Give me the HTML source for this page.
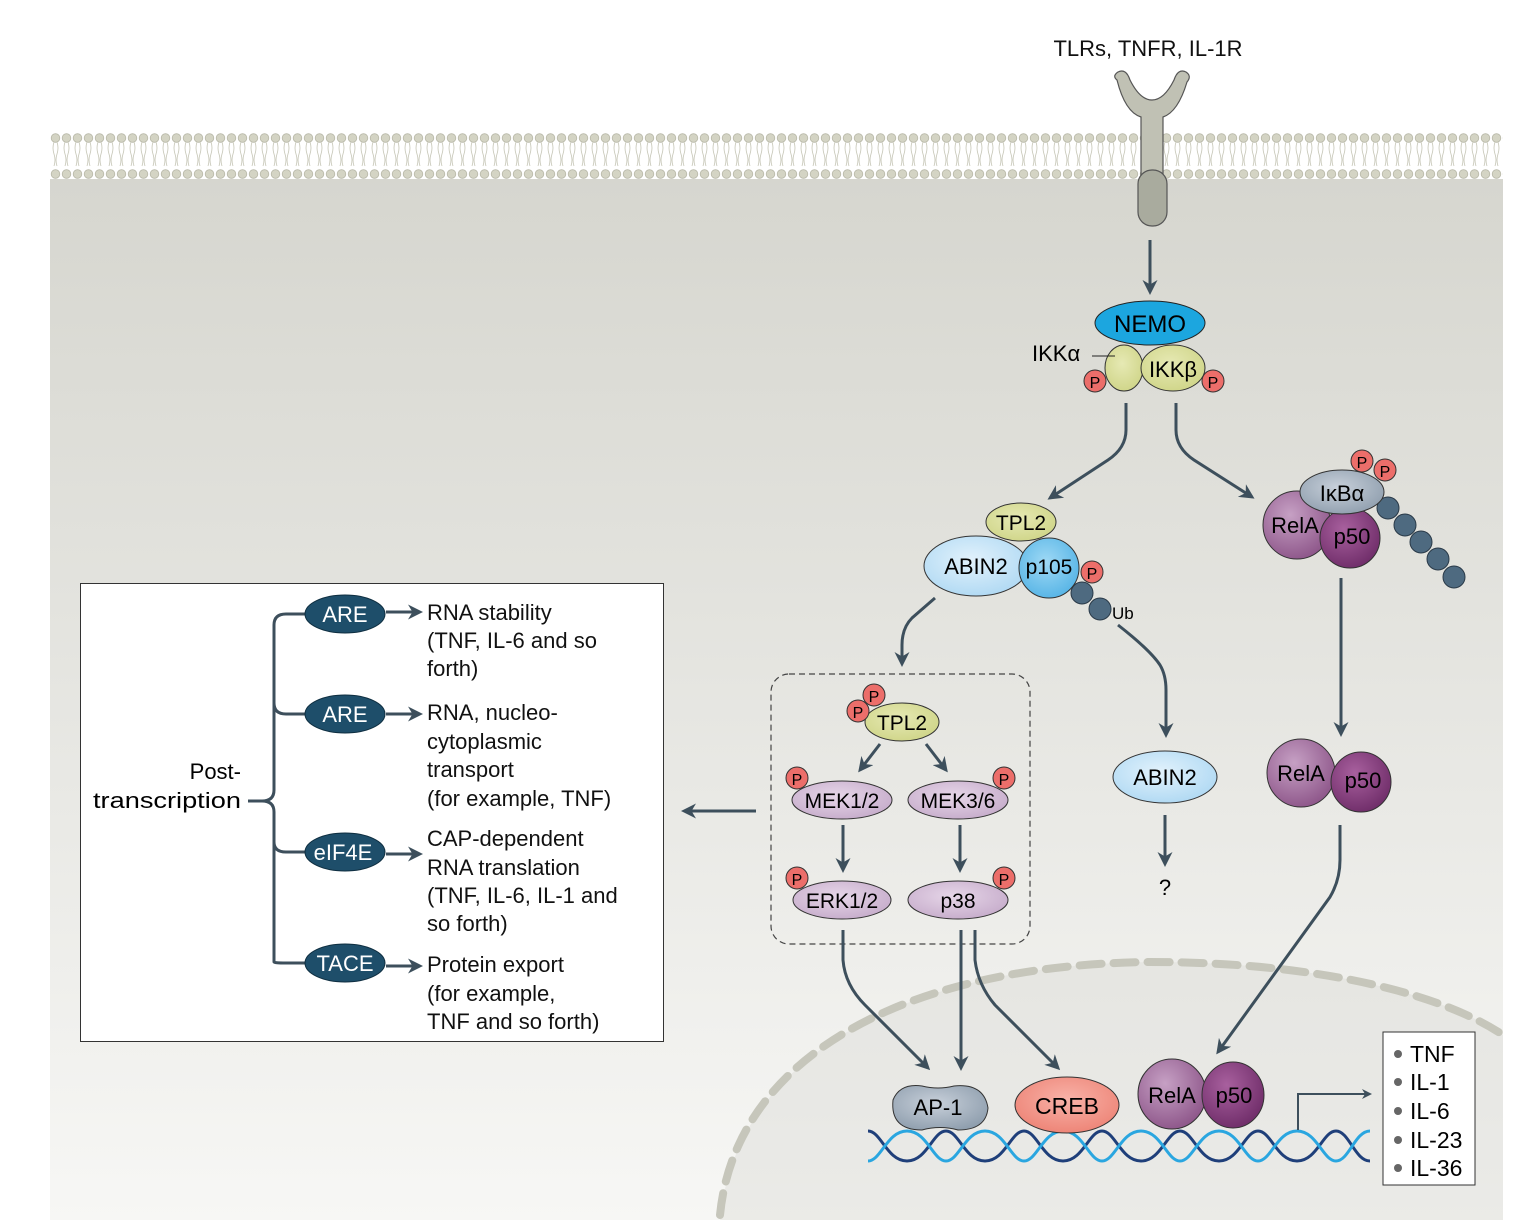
<!DOCTYPE html>
<html><head><meta charset="utf-8"><style>
html,body{margin:0;padding:0;background:#fff}
svg text{font-family:"Liberation Sans","DejaVu Sans",sans-serif}
</style></head><body>
<svg width="1514" height="1220" viewBox="0 0 1514 1220" xmlns="http://www.w3.org/2000/svg">
<defs>
<linearGradient id="cell" x1="0" y1="0" x2="0" y2="1">
<stop offset="0" stop-color="#d6d6cf"/><stop offset="0.6" stop-color="#e9e9e5"/><stop offset="1" stop-color="#f7f7f5"/></linearGradient>
<radialGradient id="gy" cx="0.45" cy="0.4" r="0.7"><stop offset="0" stop-color="#e6e9b4"/><stop offset="1" stop-color="#cdd384"/></radialGradient>
<radialGradient id="pu" cx="0.4" cy="0.35" r="0.7"><stop offset="0" stop-color="#c6a0c4"/><stop offset="1" stop-color="#8c5488"/></radialGradient>
<radialGradient id="pd" cx="0.4" cy="0.35" r="0.7"><stop offset="0" stop-color="#a8609e"/><stop offset="1" stop-color="#6e2c68"/></radialGradient>
<radialGradient id="lp" cx="0.45" cy="0.4" r="0.7"><stop offset="0" stop-color="#e6d6e8"/><stop offset="1" stop-color="#c3a8c8"/></radialGradient>
<radialGradient id="lb" cx="0.45" cy="0.4" r="0.7"><stop offset="0" stop-color="#e2f2fc"/><stop offset="1" stop-color="#aad6f2"/></radialGradient>
<radialGradient id="mb" cx="0.45" cy="0.4" r="0.7"><stop offset="0" stop-color="#9fd9f5"/><stop offset="1" stop-color="#4eb0e4"/></radialGradient>
<radialGradient id="sg" cx="0.45" cy="0.4" r="0.7"><stop offset="0" stop-color="#c8d0da"/><stop offset="1" stop-color="#8a9aaa"/></radialGradient>
<radialGradient id="cr" cx="0.5" cy="0.4" r="0.7"><stop offset="0" stop-color="#f8b2a8"/><stop offset="1" stop-color="#ec7e70"/></radialGradient>
<marker id="ah" viewBox="0 0 10 10" refX="8" refY="5" markerWidth="5" markerHeight="5" orient="auto"><path d="M0,0 L10,5 L0,10 L3,5z" fill="#3d4f5c"/></marker>
<pattern id="lip" x="50" y="133" width="11" height="46" patternUnits="userSpaceOnUse">
<circle cx="5.5" cy="5" r="4.3" fill="#d4d4c4" stroke="#b8b8a8" stroke-width="0.8"/>
<circle cx="5.5" cy="41" r="4.3" fill="#d4d4c4" stroke="#b8b8a8" stroke-width="0.8"/>
<path d="M4,9 q-2,6 0,12 q2,6 0,12 M7,9 q2,6 0,12 q-2,6 0,12" stroke="#c4c4b4" stroke-width="0.8" fill="none"/>
</pattern>
<clipPath id="cc"><rect x="50" y="174" width="1453" height="1046"/></clipPath>
</defs>
<rect x="50" y="174" width="1453" height="1046" fill="url(#cell)"/>
<rect x="50" y="133" width="1453" height="46" fill="#fff"/>
<rect x="50" y="133" width="1453" height="46" fill="url(#lip)"/>
<!-- nucleus -->
<g clip-path="url(#cc)">
<path d="M720,1220 C735,1060 900,965 1150,962 C1320,962 1450,995 1510,1040 L1510,1220Z" fill="#dcdcd6" opacity="0.45"/>
<path d="M720,1215 C735,1060 900,965 1150,962 C1320,962 1450,995 1510,1040" fill="none" stroke="#c6c6bb" stroke-width="8" stroke-dasharray="22,12" stroke-linecap="round"/>
</g>
<!-- receptor -->
<text x="1148" y="56" font-size="22" text-anchor="middle" fill="#111">TLRs, TNFR, IL-1R</text>
<path d="M1117,80 Q1112,76 1118,72 Q1126,68 1130,80 Q1140,100 1152,100 Q1164,100 1174,80 Q1178,68 1186,72 Q1192,76 1187,82 Q1178,112 1163,117 L1163,180 L1141,180 L1141,117 Q1125,112 1117,80Z" fill="#c0c1b4" stroke="#555" stroke-width="1.2"/>
<rect x="1138" y="170" width="29" height="56" rx="14" fill="#a9ab9e" stroke="#555" stroke-width="1.2"/>
<line x1="1150" y1="240" x2="1150" y2="292" stroke="#3d4f5c" stroke-width="3" marker-end="url(#ah)"/>
<!-- IKK -->
<ellipse cx="1150" cy="323" rx="55" ry="22" fill="#1ca6df" stroke="#222"/>
<text x="1150" y="332" font-size="24" text-anchor="middle">NEMO</text>
<ellipse cx="1124" cy="368" rx="19" ry="23" fill="url(#gy)" stroke="#333"/>
<ellipse cx="1173" cy="368" rx="32" ry="23" fill="url(#gy)" stroke="#333"/>
<text x="1173" y="377" font-size="22" text-anchor="middle">IKKβ</text>
<text x="1032" y="361" font-size="22">IKKα</text>
<line x1="1092" y1="356" x2="1115" y2="356" stroke="#222"/>
<circle cx="1095" cy="381" r="11" fill="#ec6e6a" stroke="#333"/><text x="1095" y="388" font-size="16" text-anchor="middle">P</text>
<circle cx="1213" cy="381" r="11" fill="#ec6e6a" stroke="#333"/><text x="1213" y="388" font-size="16" text-anchor="middle">P</text>
<path d="M1126,403 L1126,430 Q1126,448 1108,460 L1050,498" fill="none" stroke="#3d4f5c" stroke-width="3" marker-end="url(#ah)"/>
<path d="M1176,403 L1176,430 Q1176,448 1194,460 L1252,497" fill="none" stroke="#3d4f5c" stroke-width="3" marker-end="url(#ah)"/>
<!-- IkBa complex -->
<circle cx="1297" cy="525" r="34" fill="url(#pu)" stroke="#333"/>
<circle cx="1350" cy="538" r="30" fill="url(#pd)" stroke="#333"/>
<g fill="#4e6a80" stroke="#2a3a48">
<circle cx="1388" cy="508" r="11"/><circle cx="1405" cy="525" r="11"/><circle cx="1421" cy="542" r="11"/><circle cx="1438" cy="559" r="11"/><circle cx="1454" cy="577" r="11"/></g>
<ellipse cx="1342" cy="492" rx="42" ry="22" fill="url(#sg)" stroke="#333"/>
<text x="1342" y="501" font-size="22" text-anchor="middle">IκBα</text>
<text x="1295" y="533" font-size="22" text-anchor="middle">RelA</text>
<text x="1352" y="544" font-size="22" text-anchor="middle">p50</text>
<circle cx="1362" cy="461" r="11" fill="#ec6e6a" stroke="#333"/><text x="1362" y="468" font-size="16" text-anchor="middle">P</text>
<circle cx="1385" cy="470" r="11" fill="#ec6e6a" stroke="#333"/><text x="1385" y="477" font-size="16" text-anchor="middle">P</text>
<line x1="1341" y1="578" x2="1341" y2="734" stroke="#3d4f5c" stroke-width="3" marker-end="url(#ah)"/>
<circle cx="1301" cy="773" r="34" fill="url(#pu)" stroke="#333"/>
<circle cx="1361" cy="782" r="30" fill="url(#pd)" stroke="#333"/>
<text x="1301" y="781" font-size="22" text-anchor="middle">RelA</text>
<text x="1363" y="788" font-size="22" text-anchor="middle">p50</text>
<path d="M1340,825 L1340,860 Q1340,880 1330,897 L1218,1052" fill="none" stroke="#3d4f5c" stroke-width="3" marker-end="url(#ah)"/>
<!-- TPL2/ABIN2/p105 -->
<g fill="#4e6a80" stroke="#2a3a48"><circle cx="1082" cy="593" r="11"/><circle cx="1100" cy="609" r="11"/></g>
<text x="1112" y="619" font-size="17">Ub</text>
<ellipse cx="976" cy="566" rx="52" ry="30" fill="url(#lb)" stroke="#333"/>
<circle cx="1049" cy="568" r="30" fill="url(#mb)" stroke="#333"/>
<ellipse cx="1021" cy="522" rx="35" ry="19" fill="url(#gy)" stroke="#333"/>
<text x="1021" y="530" font-size="21" text-anchor="middle">TPL2</text>
<text x="976" y="574" font-size="22" text-anchor="middle">ABIN2</text>
<text x="1049" y="574" font-size="21" text-anchor="middle">p105</text>
<circle cx="1092" cy="572" r="11" fill="#ec6e6a" stroke="#333"/><text x="1092" y="579" font-size="16" text-anchor="middle">P</text>
<path d="M1118,625 Q1150,650 1160,665 Q1166,675 1166,690 L1166,735" fill="none" stroke="#3d4f5c" stroke-width="3" marker-end="url(#ah)"/>
<ellipse cx="1165" cy="777" rx="52" ry="26" fill="url(#lb)" stroke="#333"/>
<text x="1165" y="785" font-size="22" text-anchor="middle">ABIN2</text>
<line x1="1165" y1="815" x2="1165" y2="864" stroke="#3d4f5c" stroke-width="3" marker-end="url(#ah)"/>
<text x="1165" y="895" font-size="22" text-anchor="middle">?</text>
<path d="M935,598 L912,618 Q902,628 902,645 L902,664" fill="none" stroke="#3d4f5c" stroke-width="3" marker-end="url(#ah)"/>
<!-- dashed box -->
<rect x="771" y="674" width="259" height="270" rx="18" fill="none" stroke="#444" stroke-dasharray="6,4" stroke-width="1.2"/>
<ellipse cx="902" cy="722" rx="37" ry="19" fill="url(#gy)" stroke="#333"/>
<text x="902" y="730" font-size="21" text-anchor="middle">TPL2</text>
<circle cx="858" cy="711" r="11" fill="#ec6e6a" stroke="#333"/><text x="858" y="718" font-size="16" text-anchor="middle">P</text>
<circle cx="874" cy="695" r="11" fill="#ec6e6a" stroke="#333"/><text x="874" y="702" font-size="16" text-anchor="middle">P</text>
<line x1="880" y1="744" x2="860" y2="770" stroke="#3d4f5c" stroke-width="3" marker-end="url(#ah)"/>
<line x1="926" y1="744" x2="946" y2="770" stroke="#3d4f5c" stroke-width="3" marker-end="url(#ah)"/>
<ellipse cx="842" cy="800" rx="50" ry="19" fill="url(#lp)" stroke="#333"/>
<text x="842" y="808" font-size="21" text-anchor="middle">MEK1/2</text>
<ellipse cx="958" cy="800" rx="50" ry="19" fill="url(#lp)" stroke="#333"/>
<text x="958" y="808" font-size="21" text-anchor="middle">MEK3/6</text>
<circle cx="797" cy="778" r="11" fill="#ec6e6a" stroke="#333"/><text x="797" y="785" font-size="16" text-anchor="middle">P</text>
<circle cx="1004" cy="778" r="11" fill="#ec6e6a" stroke="#333"/><text x="1004" y="785" font-size="16" text-anchor="middle">P</text>
<line x1="843" y1="825" x2="843" y2="870" stroke="#3d4f5c" stroke-width="3" marker-end="url(#ah)"/>
<line x1="960" y1="825" x2="960" y2="870" stroke="#3d4f5c" stroke-width="3" marker-end="url(#ah)"/>
<ellipse cx="842" cy="900" rx="49" ry="19" fill="url(#lp)" stroke="#333"/>
<text x="842" y="908" font-size="21" text-anchor="middle">ERK1/2</text>
<ellipse cx="958" cy="900" rx="50" ry="19" fill="url(#lp)" stroke="#333"/>
<text x="958" y="908" font-size="21" text-anchor="middle">p38</text>
<circle cx="797" cy="878" r="11" fill="#ec6e6a" stroke="#333"/><text x="797" y="885" font-size="16" text-anchor="middle">P</text>
<circle cx="1004" cy="878" r="11" fill="#ec6e6a" stroke="#333"/><text x="1004" y="885" font-size="16" text-anchor="middle">P</text>
<line x1="756" y1="811" x2="684" y2="811" stroke="#3d4f5c" stroke-width="3" marker-end="url(#ah)"/>
<path d="M843,930 L843,960 Q845,985 865,1005 L928,1068" fill="none" stroke="#3d4f5c" stroke-width="3" marker-end="url(#ah)"/>
<line x1="961" y1="930" x2="961" y2="1068" stroke="#3d4f5c" stroke-width="3" marker-end="url(#ah)"/>
<path d="M975,930 L975,960 Q978,985 995,1005 L1058,1068" fill="none" stroke="#3d4f5c" stroke-width="3" marker-end="url(#ah)"/>
<!-- DNA -->
<g fill="none" stroke-width="3">
<path d="M868,1131 C881,1131 887,1161 907,1161 C927,1161 933,1131 946,1131 C959,1131 965,1161 985,1161 C1005,1161 1011,1131 1024,1131 C1037,1131 1043,1161 1063,1161 C1083,1161 1089,1131 1102,1131 C1115,1131 1121,1161 1141,1161 C1161,1161 1167,1131 1180,1131 C1193,1131 1199,1161 1219,1161 C1239,1161 1245,1131 1258,1131 C1271,1131 1277,1161 1297,1161 C1317,1161 1323,1131 1336,1131 C1349,1131 1355,1161 1370,1161" stroke="#1f3f7a"/>
<path d="M868,1161 C881,1161 887,1131 907,1131 C927,1131 933,1161 946,1161 C959,1161 965,1131 985,1131 C1005,1131 1011,1161 1024,1161 C1037,1161 1043,1131 1063,1131 C1083,1131 1089,1161 1102,1161 C1115,1161 1121,1131 1141,1131 C1161,1131 1167,1161 1180,1161 C1193,1161 1199,1131 1219,1131 C1239,1131 1245,1161 1258,1161 C1271,1161 1277,1131 1297,1131 C1317,1131 1323,1161 1336,1161 C1349,1161 1355,1131 1370,1131" stroke="#2aa6e0"/>
</g>
<path d="M893,1100 Q900,1083 922,1086 Q938,1090 954,1086 Q984,1083 988,1108 Q986,1130 958,1130 Q940,1125 922,1130 Q890,1130 893,1100Z" fill="url(#sg)" stroke="#333"/>
<text x="938" y="1115" font-size="22" text-anchor="middle">AP-1</text>
<ellipse cx="1067" cy="1105" rx="52" ry="28" fill="url(#cr)" stroke="#333"/>
<text x="1067" y="1114" font-size="23" text-anchor="middle">CREB</text>
<ellipse cx="1172" cy="1094" rx="34" ry="35" fill="url(#pu)" stroke="#333"/>
<ellipse cx="1233" cy="1095" rx="31" ry="33" fill="url(#pd)" stroke="#333"/>
<text x="1172" y="1103" font-size="22" text-anchor="middle">RelA</text>
<text x="1234" y="1103" font-size="22" text-anchor="middle">p50</text>
<path d="M1298,1130 L1298,1094 L1370,1094" fill="none" stroke="#3d4f5c" stroke-width="2" marker-end="url(#ah)"/>
<rect x="1383" y="1032" width="92" height="153" fill="#fff" stroke="#333"/>
<g font-size="23"><text x="1410" y="1062">TNF</text><text x="1410" y="1090">IL-1</text><text x="1410" y="1119">IL-6</text><text x="1410" y="1148">IL-23</text><text x="1410" y="1176">IL-36</text></g>
<g fill="#666"><circle cx="1398" cy="1054" r="4"/><circle cx="1398" cy="1082" r="4"/><circle cx="1398" cy="1111" r="4"/><circle cx="1398" cy="1140" r="4"/><circle cx="1398" cy="1168" r="4"/></g>
<!-- left box -->
<rect x="80.5" y="583.5" width="583" height="458" fill="#fff" stroke="#333"/>
<text x="241" y="779" font-size="22" text-anchor="end">Post-</text>
<text x="241" y="808" font-size="22" text-anchor="end" textLength="148" lengthAdjust="spacingAndGlyphs">transcription</text>
<path d="M248,801 L262,801 Q274,801 274,790 L274,625 Q274,614 286,614 L305,614 M274,703 Q274,714 286,714 L305,714 M262,801 Q274,801 274,812 L274,962 Q274,963 286,963 L305,963 M274,842 Q274,852 286,852 L305,852" fill="none" stroke="#3d4f5c" stroke-width="3"/>
<g fill="#1e4e6a" stroke="#0e2e40">
<ellipse cx="345" cy="614" rx="40" ry="19"/><ellipse cx="345" cy="714" rx="40" ry="19"/><ellipse cx="345" cy="852" rx="40" ry="19"/><ellipse cx="345" cy="963" rx="40" ry="19"/></g>
<g fill="#fff" font-size="22" text-anchor="middle"><text x="345" y="622">ARE</text><text x="345" y="722">ARE</text><text x="343" y="860">eIF4E</text><text x="345" y="971">TACE</text></g>
<g stroke="#3d4f5c" stroke-width="3" marker-end="url(#ah)"><line x1="386" y1="612" x2="420" y2="612"/><line x1="386" y1="714" x2="420" y2="714"/><line x1="386" y1="854" x2="420" y2="854"/><line x1="386" y1="966" x2="420" y2="966"/></g>
<g font-size="22" fill="#111">
<text x="427" y="620">RNA stability</text><text x="427" y="648">(TNF, IL-6 and so</text><text x="427" y="676">forth)</text>
<text x="427" y="720">RNA, nucleo-</text><text x="427" y="749">cytoplasmic</text><text x="427" y="777">transport</text><text x="427" y="806">(for example, TNF)</text>
<text x="427" y="846">CAP-dependent</text><text x="427" y="875">RNA translation</text><text x="427" y="903">(TNF, IL-6, IL-1 and</text><text x="427" y="931">so forth)</text>
<text x="427" y="972">Protein export</text><text x="427" y="1001">(for example,</text><text x="427" y="1029">TNF and so forth)</text>
</g>
</svg>
</body></html>
